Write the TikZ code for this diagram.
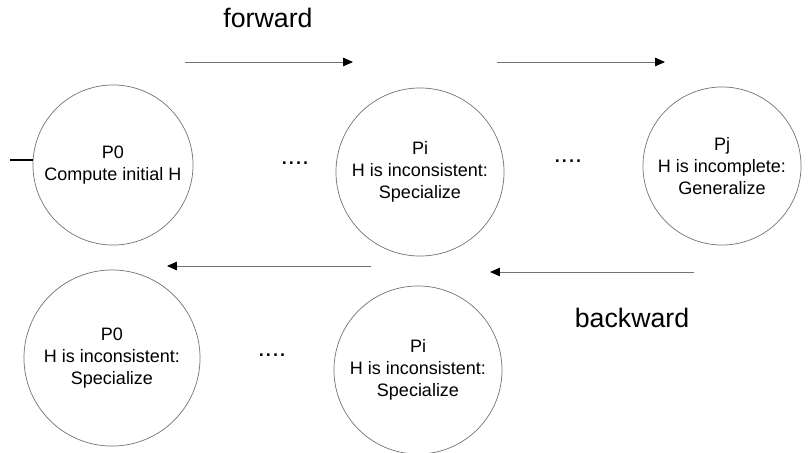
\documentclass[tikz,border=0pt]{standalone}
\usepackage{fontspec}
\setmainfont{Liberation Sans}
\usetikzlibrary{arrows.meta,positioning}

\begin{document}
\begin{tikzpicture}[x=0.025cm, y=-0.025cm,
  state/.style={circle, draw=black!55, line width=0.5pt, inner sep=0pt,
    align=center, font=\fontsize{12.8}{15.5}\selectfont},
  flow/.style={-{Triangle[length=7pt,width=6pt,color=black]}, draw=black!55, line width=0.7pt},
  dots/.style={font=\fontsize{18}{18}\selectfont},
  pass/.style={font=\fontsize{19}{20}\selectfont}]

  \useasboundingbox (0,0) rectangle (808,453);

  % Forward pass
  \node[state, minimum size=4cm]    (p0) at (113,165) {P0\\Compute initial H};
  \node[state, minimum size=4.2cm]  (pi) at (420,172) {Pi\\H is inconsistent:\\Specialize};
  \node[state, minimum size=3.95cm] (pj) at (722,166) {Pj\\H is incomplete:\\Generalize};

  % Backward pass
  \node[state, minimum size=4.4cm] (q0) at (112,358) {P0\\H is inconsistent:\\Specialize};
  \node[state, minimum size=4.2cm] (qi) at (418,370) {Pi\\H is inconsistent:\\Specialize};

  % Dots
  \node[dots] (d1) at (295,163) {....};
  \node[dots] (d2) at (568,161) {....};
  \node[dots] (d3) at (272,355) {....};

  % Start
  \coordinate (start) at (10,160);
  \draw[line width=1.2pt] (start) -- (start -| p0.west);

  % Arrows
  \coordinate (f1s) at (185,62);  \coordinate (f1e) at (353,62);
  \coordinate (f2s) at (497,62);  \coordinate (f2e) at (665,62);
  \coordinate (b1s) at (371,266); \coordinate (b1e) at (167,266);
  \coordinate (b2s) at (694,272); \coordinate (b2e) at (490,272);
  \draw[flow] (f1s) -- (f1e);
  \draw[flow] (f2s) -- (f2e);
  \draw[flow] (b1s) -- (b1e);
  \draw[flow] (b2s) -- (b2e);

  % Labels
  \node[pass] (fw) at (268,18)  {forward};
  \node[pass] (bw) at (632,318) {backward};
\end{tikzpicture}
\end{document}
